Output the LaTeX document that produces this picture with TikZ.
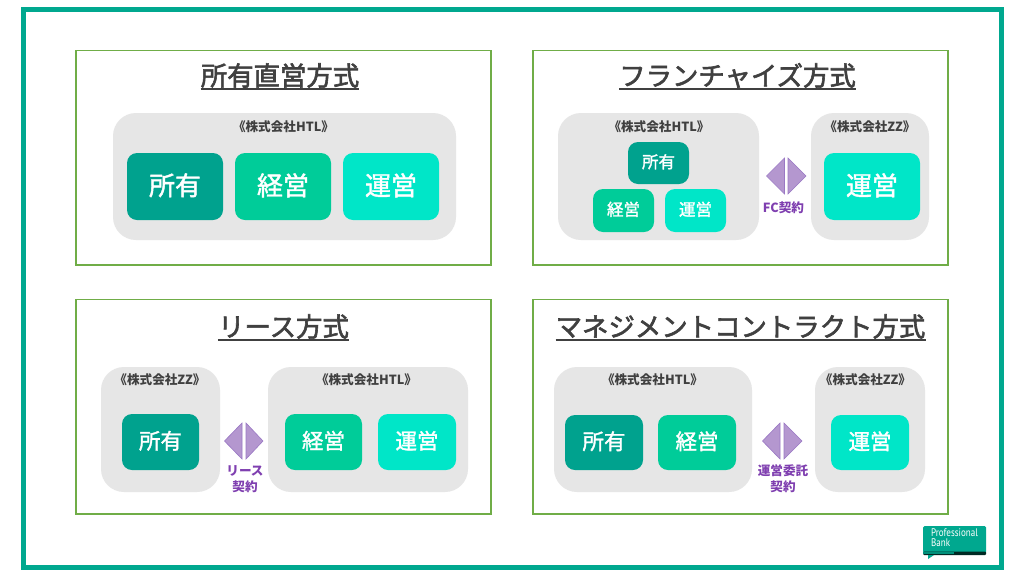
\documentclass[tikz,border=0pt]{standalone}
\usepackage{fontspec}
\setmainfont{Noto Sans CJK JP}
\newfontfamily\medfont[FakeBold=2.2]{Noto Sans CJK JP}
\newfontfamily\tilefont[FakeBold=1.6]{Noto Sans CJK JP}
\newfontfamily\logofont{PT Sans}
\definecolor{frameteal}{HTML}{00A88F}
\definecolor{panelgreen}{HTML}{70AD47}
\definecolor{groupgray}{HTML}{E6E6E6}
\definecolor{ownc}{HTML}{00A28E}
\definecolor{mgmtc}{HTML}{00CC99}
\definecolor{opc}{HTML}{00E6C8}
\definecolor{triangc}{HTML}{B497CF}
\definecolor{triedge}{HTML}{9A78C4}
\definecolor{labelc}{HTML}{7F3FB0}
\definecolor{titlec}{HTML}{404040}
\tikzset{
  x=1pt,y=-1pt,
  panelbox/.style={draw=panelgreen,line width=1.4pt,fill=white},
  groupbox/.style={fill=groupgray,rounded corners=23pt},
  tile/.style={rounded corners=10pt,draw=none},
  tiletext/.style={text=white,inner sep=0pt,yshift=1.2pt,font=\tilefont\fontsize{#1}{#1}\selectfont},
  grouplabel/.style={text=titlec,inner sep=0pt,font=\fontsize{12.6}{12}\selectfont\bfseries},
  paneltitle/.style={text=titlec,inner sep=0pt,font=\medfont\fontsize{26.4}{26}\selectfont},
  contractlabel/.style={text=labelc,inner sep=0pt,align=center,font=\fontsize{12.6}{16}\selectfont\bfseries},
  tri/.style={fill=triangc,draw=triedge,line width=0.6pt,line join=miter},
  underl/.style={draw=titlec,line width=1.6pt}
}
\newcommand{\TileBox}[8]{% name, x0,y0,x1,y1, colour, text size, text
  \fill[tile,fill=#6] (#2,#3) rectangle (#4,#5);
  \node[tiletext=#7] (#1) at ({(#2+#4)/2},{(#3+#5)/2}) {#8};
}
\newcommand{\TitleText}[4]{% name,x,y,text
  \node[paneltitle] (#1) at (#2,#3) {#4};
  \draw[underl] ([yshift=-13.4pt]#1.west) -- ([yshift=-13.4pt]#1.east);
}
\newcommand{\TwoTri}[5]{% apex-left, base-left, base-right, apex-right, ymid
  \draw[tri] (#1,#5) -- (#2,#5-18) -- (#2,#5+18) -- cycle;
  \draw[tri] (#4,#5) -- (#3,#5-18) -- (#3,#5+18) -- cycle;
}
\begin{document}
\begin{tikzpicture}
\useasboundingbox (0,0) rectangle (1024,576);
\fill[white] (0,0) rectangle (1024,576);
\draw[frameteal,line width=4.6pt] (23.5,9.5) rectangle (1001.5,567.5);

% panels
\draw[panelbox] (76,50.7) rectangle (491,265);
\draw[panelbox] (533,50.7) rectangle (948,265);
\draw[panelbox] (76,299.7) rectangle (491,514);
\draw[panelbox] (533,299.7) rectangle (948,514);

% titles
\TitleText{t1}{280}{75.5}{所有直営方式}
\TitleText{t2}{737.5}{75.5}{フランチャイズ方式}
\TitleText{t3}{283.5}{326.5}{リース方式}
\TitleText{t4}{740.5}{326.5}{マネジメントコントラクト方式}

% panel 1
\fill[groupbox] (113,113) rectangle (456,240);
\node[grouplabel] (g1) at (283.5,127) {《株式会社HTL》};
\TileBox{a1}{127}{153}{223}{220}{ownc}{26}{所有}
\TileBox{a2}{235}{153}{331}{220}{mgmtc}{26}{経営}
\TileBox{a3}{343}{153}{439}{220}{opc}{26}{運営}

% panel 2
\fill[groupbox] (558,113) rectangle (759,240);
\fill[groupbox] (811,113) rectangle (929,240);
\node[grouplabel] (g2a) at (659,127) {《株式会社HTL》};
\node[grouplabel] (g2b) at (870,127) {《株式会社ZZ》};
\TileBox{b1}{628}{142}{689}{184}{ownc}{16.5}{所有}
\TileBox{b2}{593}{189}{654}{232}{mgmtc}{16.5}{経営}
\TileBox{b3}{665}{189}{726}{232}{opc}{16.5}{運営}
\TileBox{b4}{824}{153}{920}{220}{opc}{26}{運営}
\TwoTri{766.5}{784.5}{788}{806}{176}
\node[contractlabel] (c2) at (783.5,208) {FC契約};

% panel 3
\fill[groupbox] (101,367) rectangle (220,492);
\fill[groupbox] (268,367) rectangle (468,492);
\node[grouplabel] (g3a) at (160,380) {《株式会社ZZ》};
\node[grouplabel] (g3b) at (366.5,380) {《株式会社HTL》};
\TileBox{d1}{122}{414}{199}{470}{ownc}{21.5}{所有}
\TileBox{d2}{285}{414}{362}{470}{mgmtc}{21.5}{経営}
\TileBox{d3}{378}{414}{456}{470}{opc}{21.5}{運営}
\TwoTri{224.5}{242}{246}{263}{441}
\node[contractlabel] (c3) at (245,479) {リース\\契約};

% panel 4
\fill[groupbox] (554,367) rectangle (752,492);
\fill[groupbox] (815,367) rectangle (925,492);
\node[grouplabel] (g4a) at (652.5,380) {《株式会社HTL》};
\node[grouplabel] (g4b) at (865.5,380) {《株式会社ZZ》};
\TileBox{e1}{565}{415}{643}{470}{ownc}{21.5}{所有}
\TileBox{e2}{658}{415}{736}{470}{mgmtc}{21.5}{経営}
\TileBox{e3}{831}{415}{909}{470}{opc}{21.5}{運営}
\TwoTri{762.5}{780}{784}{802}{441}
\node[contractlabel] (c4) at (783,479) {運営委託\\契約};

% logo
\fill[frameteal,rounded corners=1.5pt] (923,526) rectangle (986,553);
\fill[black!75!frameteal,rounded corners=1pt] (923,551.5) rectangle (986,555);
\fill[frameteal!85!black] (923,551.5) rectangle (954,553.5);
\fill[frameteal] (928,555) -- (934,555) -- (928,559) -- cycle;
\node[text=white,inner sep=0pt,align=left,anchor=north west,font=\logofont\fontsize{11}{9.5}\selectfont,xscale=0.82] (logo) at (931,529) {Professional\\Bank};
\end{tikzpicture}
\end{document}
